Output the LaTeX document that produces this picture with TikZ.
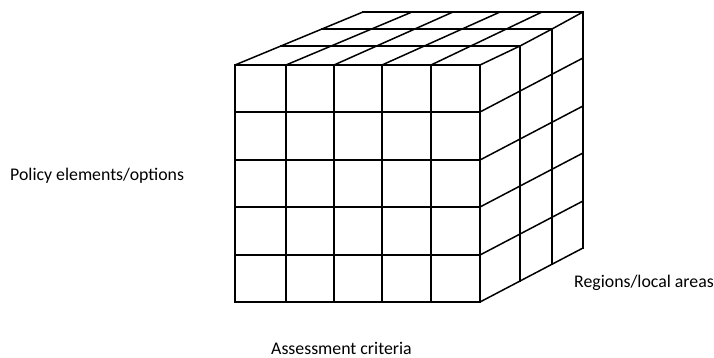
\documentclass[tikz,border=0pt]{standalone}
\usepackage{fontspec}
\setmainfont{Carlito}
\begin{document}
\begin{tikzpicture}[x=1pt,y=-1pt,
  gridline/.style={line width=1.5pt,line join=miter,line cap=rect},
  axislabel/.style={font=\fontsize{17.8}{21}\selectfont,inner sep=0pt,anchor=base west}]
\useasboundingbox (0,0) rectangle (714,358);

% front face: 5 x 5 cells
\foreach \x in {235,286,334,382,431,480}
  \draw[gridline] (\x,65) -- (\x,302);
\foreach \y in {65,112,160,207,255,302}
  \draw[gridline] (235,\y) -- (480,\y);

% top face: column lines running to the back edge
\foreach \a/\b in {235/363,286/412,334/453,382/500,431/542}
  \draw[gridline] (\a,65) -- (\b,12);
\draw[gridline] (480,65) -- (520,46) -- (552,29) -- (583,12);
% top face: depth layers
\draw[gridline] (363,12) -- (583,12);
\draw[gridline] (322,29) -- (552,29);
\draw[gridline] (281,46) -- (520,46);

% right face: depth layers as verticals
\draw[gridline] (520,46) -- (520,281);
\draw[gridline] (552,29) -- (552,264);
\draw[gridline] (583,12) -- (583,248);
% right face: rows
\foreach \y in {112,160,207,255,302}
  \draw[gridline] (480,\y) -- (583,\y-54);

% axis labels
\node[axislabel] (policy) at (10,180) {Policy elements/options};
\node[axislabel] (regions) at (574,287) {Regions/local areas};
\node[axislabel] (criteria) at (271,354) {Assessment criteria};
\end{tikzpicture}
\end{document}
